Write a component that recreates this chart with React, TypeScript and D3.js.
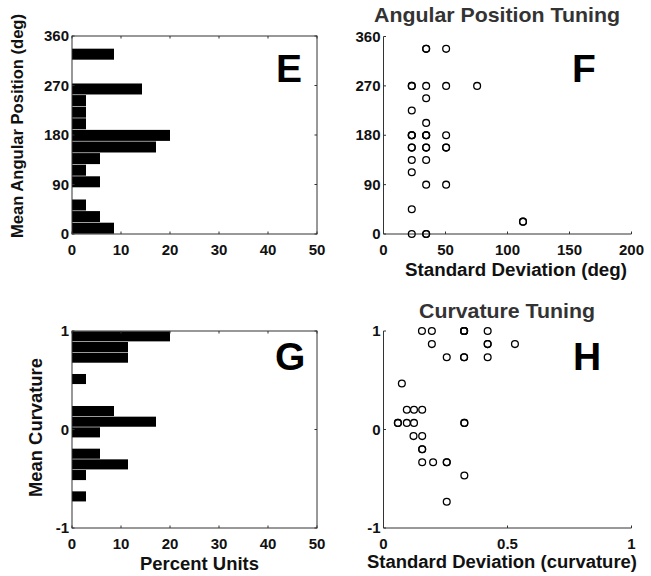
import React from "react";
import * as d3 from "d3";

// ---------- Data ----------
const N_UNITS = 35;

// Panel E: histogram of mean angular position (16 bins from 0 to 337.5 deg)
const angBinStart = 0;
const angBinWidth = 337.5 / 16;
const angCounts = [3, 2, 1, 0, 2, 1, 2, 6, 7, 1, 1, 1, 5, 0, 0, 3];
const angTicks = [0, 90, 180, 270, 360];

// Panel F: angular position tuning scatter (SD vs mean)
const angSd = [
  34.4, 34.4, 50.5,
  22.8, 22.8, 34.4, 50.5, 75.5,
  34.4,
  22.8,
  34.4,
  22.8, 22.8, 22.8, 34.4, 34.4, 34.4, 50.5,
  22.8, 22.8, 34.4, 34.4, 50.5, 50.5,
  22.8, 34.4,
  22.8,
  34.4, 50.5,
  22.8,
  112.5, 112.5,
  22.8, 34.4, 34.4,
];
const angMean = [
  337.5, 337.5, 337.5,
  270, 270, 270, 270, 270,
  247.5,
  225,
  202.5,
  180, 180, 180, 180, 180, 180, 180,
  157.5, 157.5, 157.5, 157.5, 157.5, 157.5,
  135, 135,
  112.5,
  90, 90,
  45,
  22.5, 22.5,
  0, 0, 0,
];
const angSdTicks = [0, 50, 100, 150, 200];

// Panel G: histogram of mean curvature (16 bins from -0.7333 to 1)
const curvBinStart = -0.7333;
const curvBinWidth = (1 + 0.7333) / 16;
const curvCounts = [1, 0, 1, 4, 2, 0, 2, 6, 3, 0, 0, 1, 0, 4, 4, 7];
const curvTicks = [-1, 0, 1];
const pctTicks = [0, 10, 20, 30, 40, 50];

// Panel H: curvature tuning scatter (SD vs mean)
const curvSd = [
  0.155, 0.195, 0.325, 0.325, 0.325, 0.325, 0.42,
  0.195, 0.42, 0.42, 0.53,
  0.255, 0.325, 0.325, 0.42,
  0.074,
  0.094, 0.123, 0.156,
  0.058, 0.058, 0.094, 0.123, 0.326, 0.326,
  0.121, 0.156,
  0.156, 0.156,
  0.156, 0.2, 0.255, 0.255,
  0.326,
  0.255,
];
const curvMean = [
  1, 1, 1, 1, 1, 1, 1,
  0.867, 0.867, 0.867, 0.867,
  0.733, 0.733, 0.733, 0.733,
  0.467,
  0.2, 0.2, 0.2,
  0.067, 0.067, 0.067, 0.067, 0.067, 0.067,
  -0.067, -0.067,
  -0.2, -0.2,
  -0.333, -0.333, -0.333, -0.333,
  -0.467,
  -0.733,
];
const curvSdTicks = [0, 0.5, 1];

// ---------- Styling ----------
const FONT = "'Liberation Sans', Arial, Helvetica, sans-serif";
const AXIS = "#333";
const TEXT = "#111";
const TICK_FS = 15;
const LABEL_FS = 18;
const TITLE_FS = 21;
const LETTER_FS = 39;

const fmt = (v: number) => String(v);

type Box = { left: number; right: number; top: number; bottom: number };

function Axes({
  x,
  y,
  xTicks,
  yTicks,
  box,
  mirror,
}: {
  x: d3.ScaleLinear<number, number>;
  y: d3.ScaleLinear<number, number>;
  xTicks: number[];
  yTicks: number[];
  box: Box;
  mirror: boolean;
}) {
  const tl = 2.5;
  return (
    <g>
      {mirror && (
        <rect
          x={box.left}
          y={box.top}
          width={box.right - box.left}
          height={box.bottom - box.top}
          fill="none"
          stroke={AXIS}
          strokeWidth={1}
        />
      )}
      {!mirror && (
        <>
          <line x1={box.left} x2={box.right} y1={box.bottom} y2={box.bottom} stroke={AXIS} strokeWidth={1} />
          <line x1={box.left} x2={box.left} y1={box.top} y2={box.bottom} stroke={AXIS} strokeWidth={1} />
        </>
      )}
      {xTicks.map((t) => (
        <g key={"x" + t}>
          <line x1={x(t)} x2={x(t)} y1={box.bottom} y2={box.bottom - tl} stroke={AXIS} strokeWidth={1} />
          {mirror && <line x1={x(t)} x2={x(t)} y1={box.top} y2={box.top + tl} stroke={AXIS} strokeWidth={1} />}
          <text
            x={x(t)}
            y={box.bottom + 21}
            textAnchor="middle"
            fontFamily={FONT}
            fontWeight="bold"
            fontSize={TICK_FS}
            fill={TEXT}
          >
            {fmt(t)}
          </text>
        </g>
      ))}
      {yTicks.map((t) => (
        <g key={"y" + t}>
          <line x1={box.left} x2={box.left + tl} y1={y(t)} y2={y(t)} stroke={AXIS} strokeWidth={1} />
          {mirror && <line x1={box.right} x2={box.right - tl} y1={y(t)} y2={y(t)} stroke={AXIS} strokeWidth={1} />}
          <text
            x={box.left - 3}
            y={y(t) + 5}
            textAnchor="end"
            fontFamily={FONT}
            fontWeight="bold"
            fontSize={TICK_FS}
            fill={TEXT}
          >
            {fmt(t)}
          </text>
        </g>
      ))}
    </g>
  );
}

function Letter({ x, y, ch }: { x: number; y: number; ch: string }) {
  return (
    <text x={x} y={y} fontFamily={FONT} fontWeight="bold" fontSize={LETTER_FS} fill="#000">
      {ch}
    </text>
  );
}

function Label({
  x,
  y,
  text,
  len,
  size = LABEL_FS,
  rotate = false,
  fill = TEXT,
}: {
  x: number;
  y: number;
  text: string;
  len: number;
  size?: number;
  rotate?: boolean;
  fill?: string;
}) {
  return (
    <text
      transform={rotate ? `translate(${x},${y}) rotate(-90)` : `translate(${x},${y})`}
      x={-len / 2}
      y={0}
      textLength={len}
      lengthAdjust="spacingAndGlyphs"
      fontFamily={FONT}
      fontWeight="bold"
      fontSize={size}
      fill={fill}
    >
      {text}
    </text>
  );
}

function HistPanel({
  box,
  counts,
  binStart,
  binWidth,
  yDomain,
  yTicks,
}: {
  box: Box;
  counts: number[];
  binStart: number;
  binWidth: number;
  yDomain: [number, number];
  yTicks: number[];
}) {
  const x = d3.scaleLinear().domain([0, 50]).range([box.left, box.right]);
  const y = d3.scaleLinear().domain(yDomain).range([box.bottom, box.top]);
  return (
    <g>
      {counts.map((c, i) => {
        if (c === 0) return null;
        const lo = binStart + i * binWidth;
        const hi = lo + binWidth;
        const pct = (c / N_UNITS) * 100;
        return (
          <rect
            key={i}
            x={x(0)}
            y={y(hi) + 0.3}
            width={x(pct) - x(0)}
            height={y(lo) - y(hi) - 0.6}
            fill="#000"
          />
        );
      })}
      <Axes x={x} y={y} xTicks={pctTicks} yTicks={yTicks} box={box} mirror={true} />
    </g>
  );
}

function ScatterPanel({
  box,
  xs,
  ys,
  xDomain,
  yDomain,
  xTicks,
  yTicks,
}: {
  box: Box;
  xs: number[];
  ys: number[];
  xDomain: [number, number];
  yDomain: [number, number];
  xTicks: number[];
  yTicks: number[];
}) {
  const x = d3.scaleLinear().domain(xDomain).range([box.left, box.right]);
  const y = d3.scaleLinear().domain(yDomain).range([box.bottom, box.top]);
  return (
    <g>
      <Axes x={x} y={y} xTicks={xTicks} yTicks={yTicks} box={box} mirror={false} />
      {xs.map((v, i) => (
        <circle key={i} cx={x(v)} cy={y(ys[i])} r={3.4} fill="none" stroke="#000" strokeWidth={1.3} />
      ))}
    </g>
  );
}

export default function App() {
  const boxE: Box = { left: 72, right: 317, top: 36, bottom: 234 };
  const boxF: Box = { left: 383.5, right: 631.5, top: 36.5, bottom: 234 };
  const boxG: Box = { left: 72, right: 317, top: 331, bottom: 528 };
  const boxH: Box = { left: 383.5, right: 631.5, top: 331, bottom: 528 };
  return (
    <svg
      width={651}
      height={576}
      style={{ position: "absolute", left: 0, top: 0, background: "#fff" }}
    >
      <rect x={0} y={0} width={651} height={576} fill="#fff" />
      <HistPanel
        box={boxE}
        counts={angCounts}
        binStart={angBinStart}
        binWidth={angBinWidth}
        yDomain={[0, 360]}
        yTicks={angTicks}
      />
      <ScatterPanel
        box={boxF}
        xs={angSd}
        ys={angMean}
        xDomain={[0, 200]}
        yDomain={[0, 360]}
        xTicks={angSdTicks}
        yTicks={angTicks}
      />
      <HistPanel
        box={boxG}
        counts={curvCounts}
        binStart={curvBinStart}
        binWidth={curvBinWidth}
        yDomain={[-1, 1]}
        yTicks={curvTicks}
      />
      <ScatterPanel
        box={boxH}
        xs={curvSd}
        ys={curvMean}
        xDomain={[0, 1]}
        yDomain={[-1, 1]}
        xTicks={curvSdTicks}
        yTicks={curvTicks}
      />

      {/* Titles */}
      <Label x={497} y={22} text="Angular Position Tuning" len={246} size={TITLE_FS} fill="#333" />
      <Label x={507} y={318} text="Curvature Tuning" len={176} size={TITLE_FS} fill="#333" />

      {/* Axis labels */}
      <Label x={23} y={126} text="Mean Angular Position (deg)" len={224} size={17} rotate />
      <Label x={42} y={427.5} text="Mean Curvature" len={139} rotate />
      <Label x={516} y={276} text="Standard Deviation (deg)" len={222} />
      <Label x={199.5} y={570} text="Percent Units" len={119} />
      <Label x={502} y={568} text="Standard Deviation (curvature)" len={270} />

      {/* Panel letters */}
      <Letter x={276} y={82} ch="E" />
      <Letter x={572} y={82} ch="F" />
      <Letter x={275} y={370} ch="G" />
      <Letter x={573} y={370} ch="H" />
    </svg>
  );
}
